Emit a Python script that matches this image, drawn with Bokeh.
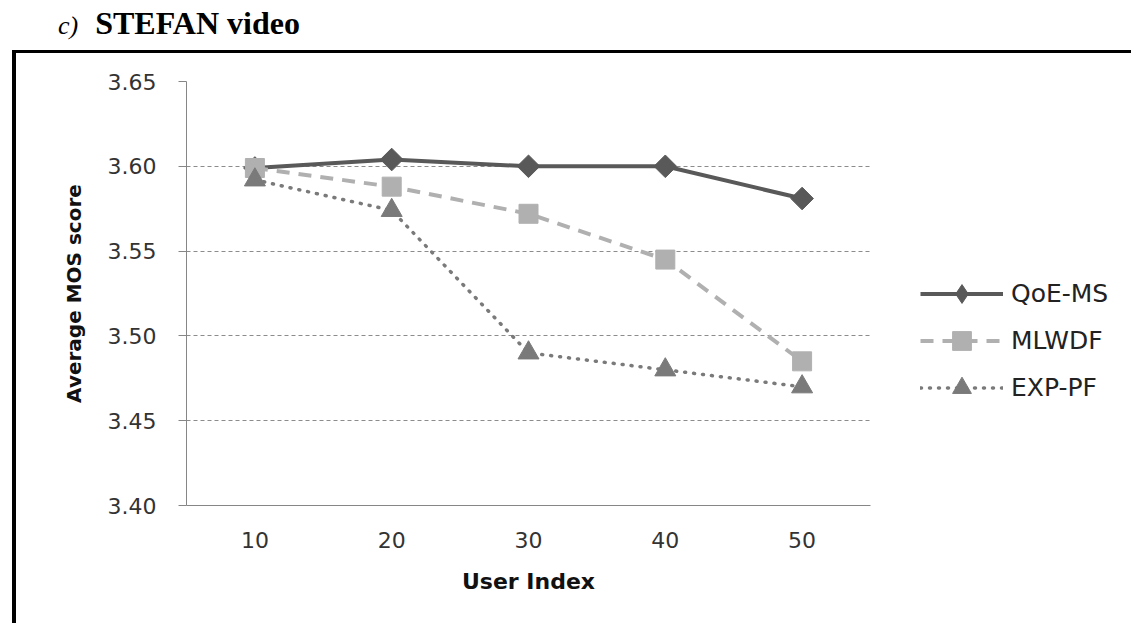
from bokeh.plotting import figure
from bokeh.models import (Legend, LegendItem, Range1d, FixedTicker,
                          NumeralTickFormatter, Div)
from bokeh.layouts import column, row
from bokeh.embed import file_html
from bokeh.resources import INLINE

users = ["10", "20", "30", "40", "50"]
qoe_ms = [3.599, 3.604, 3.600, 3.600, 3.581]
mlwdf = [3.599, 3.588, 3.572, 3.545, 3.485]
exp_pf = [3.592, 3.574, 3.490, 3.480, 3.470]
y_ticks = [3.40, 3.45, 3.50, 3.55, 3.60, 3.65]

QOE_C, MLW_C, EXP_C = "#595959", "#b0b0b0", "#7a7a7a"

# main chart: canvas starts at page (16, 53)
W, H = 864, 573
FL, FR, FT, FB = 170, 854, 28, 452

p = figure(width=W, height=H, x_range=users, y_range=Range1d(3.40, 3.65),
           output_backend="svg", toolbar_location=None,
           min_border_left=FL, min_border_right=W - FR,
           min_border_top=FT, min_border_bottom=H - FB)
p.outline_line_color = None
p.background_fill_color = "white"
p.border_fill_color = "white"
p.styles = {"border-left": "4px solid black", "border-top": "3px solid black"}
p.margin = (0, 0, 0, 12)

p.yaxis.ticker = FixedTicker(ticks=y_ticks)
p.yaxis.formatter = NumeralTickFormatter(format="0.00")
p.yaxis.axis_line_color = "#868686"
p.yaxis.major_tick_line_color = "#868686"
p.yaxis.major_tick_out = 8
p.yaxis.major_tick_in = 0
p.yaxis.minor_tick_line_color = None
p.yaxis.major_label_standoff = 22
p.yaxis.major_label_text_font = "DejaVu Sans"
p.yaxis.major_label_text_font_size = "22px"
p.yaxis.major_label_text_color = "#333333"
p.yaxis.axis_label = "Average MOS score"
p.yaxis.axis_label_text_font = "DejaVu Sans"
p.yaxis.axis_label_text_font_style = "bold"
p.yaxis.axis_label_text_font_size = "20px"
p.yaxis.axis_label_text_color = "#111111"
p.yaxis.axis_label_standoff = 19

p.xaxis.axis_line_color = "#868686"
p.xaxis.major_tick_line_color = None
p.xaxis.major_tick_out = 0
p.xaxis.major_tick_in = 0
p.xaxis.major_label_standoff = 26
p.xaxis.major_label_text_font = "DejaVu Sans"
p.xaxis.major_label_text_font_size = "22px"
p.xaxis.major_label_text_color = "#333333"
p.xaxis.axis_label = "User Index"
p.xaxis.axis_label_text_font = "DejaVu Sans"
p.xaxis.axis_label_text_font_style = "bold"
p.xaxis.axis_label_text_font_size = "22px"
p.xaxis.axis_label_text_color = "#111111"
p.xaxis.axis_label_standoff = 18

p.xgrid.grid_line_color = None
p.ygrid.grid_line_color = "#8c8c8c"
p.ygrid.grid_line_dash = "4 3"
p.ygrid.grid_line_width = 1

# series
p.line(users, qoe_ms, line_color=QOE_C, line_width=4)
p.scatter(users, qoe_ms, marker="square", angle=0.785398, size=16,
          fill_color=QOE_C, line_color=QOE_C)
p.line(users, mlwdf, line_color=MLW_C, line_width=4, line_dash="13 9")
p.scatter(users, mlwdf, marker="square", size=19,
          fill_color=MLW_C, line_color=MLW_C)
p.line(users, exp_pf, line_color=EXP_C, line_width=3.5,
       line_dash="1 8", line_cap="round")
p.scatter(users, exp_pf, marker="triangle", size=21,
          fill_color=EXP_C, line_color=EXP_C)

# legend panel (separate canvas to the right of the chart); its series lie
# outside its visible range, only their legend glyphs show
LW = 1119 - W
lf = figure(width=LW, height=H, x_range=users, y_range=Range1d(0, 1),
            x_axis_type=None, y_axis_type=None,
            output_backend="svg", toolbar_location=None, min_border=0)
lf.outline_line_color = None
lf.xgrid.grid_line_color = None
lf.ygrid.grid_line_color = None
lf.styles = {"border-top": "3px solid black"}

a1 = lf.line(users, qoe_ms, line_color=QOE_C, line_width=4)
b1 = lf.scatter(users, qoe_ms, marker="diamond", fill_color=QOE_C, line_color=QOE_C)
a2 = lf.line(users, mlwdf, line_color=MLW_C, line_width=4, line_dash="13 9")
b2 = lf.scatter(users, mlwdf, marker="square", fill_color=MLW_C, line_color=MLW_C)
a3 = lf.line(users, exp_pf, line_color=EXP_C, line_width=3.5, line_dash="1 8",
             line_cap="round")
b3 = lf.scatter(users, exp_pf, marker="triangle", fill_color=EXP_C, line_color=EXP_C)

legend = Legend(items=[LegendItem(label="QoE-MS", renderers=[a1, b1]),
                       LegendItem(label="MLWDF", renderers=[a2, b2]),
                       LegendItem(label="EXP-PF", renderers=[a3, b3])],
                location=(44, 94), glyph_width=83, glyph_height=47,
                label_height=47, label_standoff=8, spacing=0, padding=0,
                margin=0, border_line_color=None, background_fill_alpha=0,
                label_text_font="DejaVu Sans", label_text_font_size="25px",
                label_text_color="#222222")
lf.add_layout(legend, "center")

title = Div(
    text='<div style="position:absolute;left:58px;top:3px;white-space:nowrap;'
         'font-family:\'Liberation Serif\';font-size:32px;line-height:40px;color:black">'
         '<span style="font-style:italic;font-size:26px;margin-right:17px">c)</span>'
         '<span style="font-weight:bold">STEFAN video</span></div>',
    width=1135, height=50, margin=(0, 0, 0, 0),
    styles={"position": "relative"})

layout = column(title, row(p, lf, spacing=0), spacing=0)
open("out.html", "w").write(file_html(layout, INLINE))
